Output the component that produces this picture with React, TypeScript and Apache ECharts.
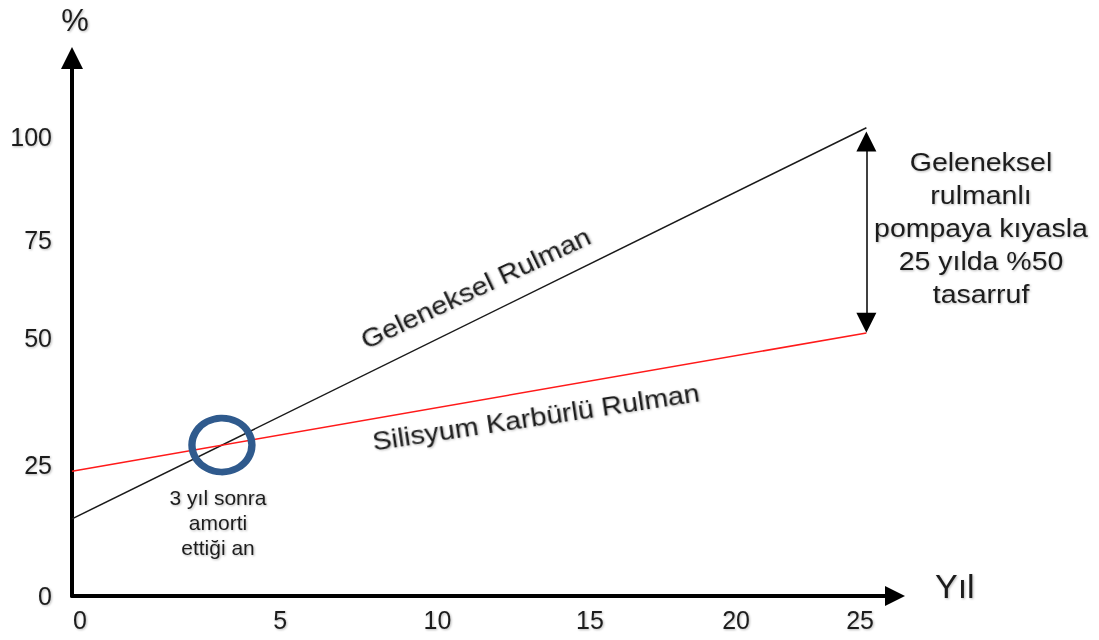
import React, { useEffect, useRef } from "react";
import * as echarts from "echarts";

// ---- data ----
const years = [0, 25];
const geleneksel = [16.8, 102];
const silisyum = [27.2, 57.3];

const xTickLabels = ["0", "5", "10", "15", "20", "25"];
const xTickAt = [0.25, 6.55, 11.5, 16.3, 20.9, 24.8];
const yTickLabels = ["0", "25", "50", "75", "100"];
const yTickAt = [0, 28.5, 56.2, 77.6, 100];

const savingArrow = [99, 59.5]; // annotation arrow span at year 25

const FONT = "Liberation Sans, Arial, sans-serif";
const TXT = "#1e1e1e";
const shadow = {
  textShadowColor: "rgba(0,0,0,0.28)",
  textShadowBlur: 2,
  textShadowOffsetX: 1,
  textShadowOffsetY: 1,
};

function intersection() {
  const sa = (geleneksel[1] - geleneksel[0]) / (years[1] - years[0]);
  const sb = (silisyum[1] - silisyum[0]) / (years[1] - years[0]);
  const x = (silisyum[0] - geleneksel[0]) / (sa - sb);
  return [x, geleneksel[0] + sa * x];
}

export default function App() {
  const ref = useRef<HTMLDivElement>(null);
  useEffect(() => {
    if (!ref.current) return;
    const chart = echarts.init(ref.current, undefined, { renderer: "svg" });
    const cross = intersection();
    const option: any = {
      animation: false,
      backgroundColor: "#ffffff",
      grid: { left: 72, right: 204, top: 58, bottom: 44, containLabel: false },
      xAxis: {
        type: "value",
        min: 0,
        max: 25.9,
        name: "Yıl",
        nameLocation: "end",
        nameGap: 40,
        nameTextStyle: {
          fontSize: 34,
          fontFamily: FONT,
          color: TXT,
          verticalAlign: "bottom",
          lineHeight: 20,
          ...shadow,
        },
        axisLine: {
          show: true,
          onZero: false,
          symbol: ["none", "triangle"],
          symbolSize: [20, 20],
          lineStyle: { color: "#000", width: 4 },
        },
        axisTick: { show: false },
        splitLine: { show: false },
        axisLabel: {
          customValues: xTickAt,
          formatter: (v: number) => xTickLabels[xTickAt.indexOf(v)] ?? "",
          fontSize: 25,
          fontFamily: FONT,
          color: TXT,
          margin: 11,
          ...shadow,
        },
      },
      yAxis: {
        type: "value",
        min: 0,
        max: 117.2,
        name: "%",
        nameLocation: "end",
        nameGap: 22,
        nameTextStyle: {
          fontSize: 31,
          fontFamily: FONT,
          color: TXT,
          align: "center",
          padding: [0, 0, 0, 6],
          ...shadow,
        },
        axisLine: {
          show: true,
          onZero: false,
          symbol: ["none", "triangle"],
          symbolSize: [22, 22],
          lineStyle: { color: "#000", width: 4 },
        },
        axisTick: { show: false },
        splitLine: { show: false },
        axisLabel: {
          customValues: yTickAt,
          formatter: (v: number) => yTickLabels[yTickAt.indexOf(v)] ?? "",
          fontSize: 25,
          fontFamily: FONT,
          color: TXT,
          margin: 20,
          ...shadow,
        },
      },
      series: [
        {
          name: "Geleneksel Rulman",
          type: "line",
          data: years.map((y, i) => [y, geleneksel[i]]),
          showSymbol: false,
          symbol: "none",
          lineStyle: { color: "#1a1a1a", width: 1.5 },
          silent: true,
          z: 3,
          markLine: {
            silent: true,
            symbol: ["triangle", "triangle"],
            symbolSize: 20,
            label: { show: false },
            lineStyle: { color: "#000", width: 1.5, type: "solid" },
            data: [
              [
                { coord: [years[1], savingArrow[0]] },
                { coord: [years[1], savingArrow[1]] },
              ],
            ],
          },
        },
        {
          name: "Silisyum Karbürlü Rulman",
          type: "line",
          data: years.map((y, i) => [y, silisyum[i]]),
          showSymbol: false,
          symbol: "none",
          lineStyle: { color: "#ff1a1a", width: 1.5 },
          silent: true,
          z: 3,
        },
        {
          name: "amorti",
          type: "scatter",
          data: [cross],
          symbol: "circle",
          symbolSize: [60, 54],
          itemStyle: {
            color: "rgba(0,0,0,0)",
            borderColor: "#2f5a8d",
            borderWidth: 7,
            opacity: 1,
          },
          silent: true,
          z: 5,
        },
      ],
      graphic: [
        {
          type: "text",
          x: 476,
          y: 289,
          rotation: 0.44,
          scaleX: 1.15,
          style: {
            text: "Geleneksel Rulman",
            fontSize: 25,
            fontFamily: FONT,
            fill: TXT,
            align: "center",
            verticalAlign: "middle",
            ...shadow,
          },
        },
        {
          type: "text",
          x: 536,
          y: 418,
          rotation: 0.15,
          scaleX: 1.15,
          style: {
            text: "Silisyum Karbürlü Rulman",
            fontSize: 25,
            fontFamily: FONT,
            fill: TXT,
            align: "center",
            verticalAlign: "middle",
            ...shadow,
          },
        },
        {
          type: "text",
          x: 218,
          y: 485,
          scaleX: 1.05,
          style: {
            text: "3 yıl sonra\namorti\nettiği an",
            fontSize: 20,
            lineHeight: 25,
            fontFamily: FONT,
            fill: TXT,
            align: "center",
            verticalAlign: "top",
            ...shadow,
          },
        },
        {
          type: "text",
          x: 981,
          y: 146,
          scaleX: 1.14,
          style: {
            text: "Geleneksel\nrulmanlı\npompaya kıyasla\n25 yılda %50\ntasarruf",
            fontSize: 25,
            lineHeight: 33,
            fontFamily: FONT,
            fill: TXT,
            align: "center",
            verticalAlign: "top",
            ...shadow,
          },
        },
      ],
    };
    chart.setOption(option);
    return () => chart.dispose();
  }, []);
  return (
    <div
      ref={ref}
      style={{ position: "fixed", left: 0, top: 0, width: 1099, height: 640 }}
    />
  );
}
